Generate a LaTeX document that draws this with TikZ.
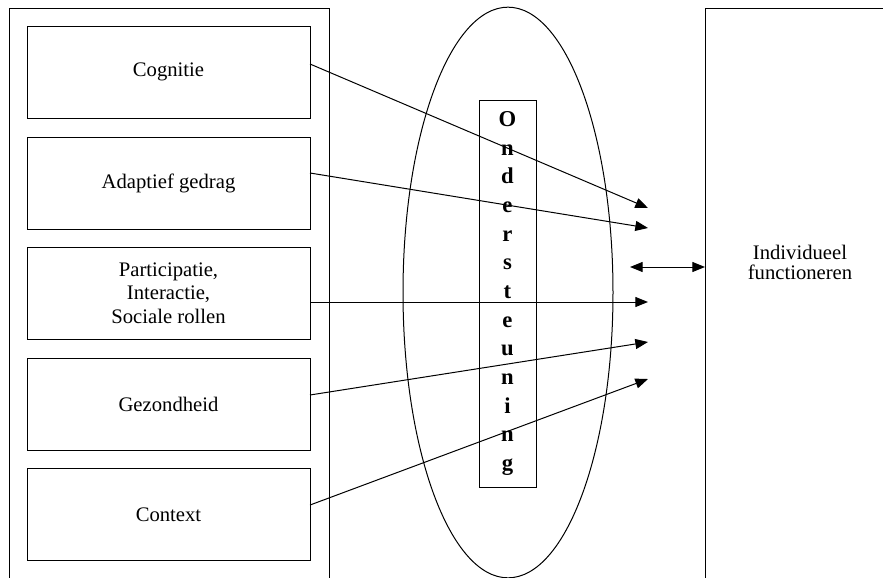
\documentclass[tikz,border=0pt]{standalone}
\usepackage{fontspec}
\setmainfont{Liberation Serif}
\usetikzlibrary{arrows.meta,shapes.geometric}
\newcommand{\txtfont}{\fontsize{15.5}{16.5}\selectfont}
\begin{document}
\begin{tikzpicture}[x=0.75pt,y=-0.75pt, line width=0.75pt,
  box/.style={draw, minimum width=212.25pt, minimum height=69pt, inner sep=0pt, outer sep=0pt, align=center, font=\txtfont},
  frame/.style={draw, inner sep=0pt, outer sep=0pt, anchor=north west},
  arr/.style={-{Triangle[length=9.5pt,width=7.5pt]}},
  dbl/.style={{Triangle[length=9.5pt,width=7.5pt]}-{Triangle[length=9.5pt,width=7.5pt]}}
]
\useasboundingbox (0,0) rectangle (883,578);
\clip (0,0) rectangle (883,578);
% outer frames
\node[frame, minimum width=240pt, minimum height=450pt] (lb) at (9,8) {};
\node[frame, minimum width=150pt, minimum height=450pt] (rb) at (705,8) {};
% ellipse
\node[draw, ellipse, minimum width=157.5pt, minimum height=428pt, inner sep=0pt, outer sep=0pt] (ell) at (508,292.5) {};
% inner boxes
\node[box] (c1) at (168.5,72) {Cognitie};
\node[box] (c2) at (168.5,183) {Adaptief gedrag};
\node[box] (c3) at (168.5,293) {Participatie,\\[1pt]Interactie,\\[1pt]Sociale rollen};
\node[box] (c4) at (168.5,404) {Gezondheid};
\node[box] (c5) at (168.5,514.5) {Context};
% vertical box
\node[draw, minimum width=42.75pt, minimum height=290.25pt, inner sep=0pt, outer sep=0pt, align=center,
      font=\fontsize{17}{21.5}\selectfont\bfseries] (ond) at (507.5,293.5)
  {O\\n\\d\\e\\r\\s\\t\\e\\u\\n\\i\\n\\g};
% right text
\node[align=center, font=\fontsize{15.5}{15}\selectfont] (ind) at (800,262) {Individueel\\functioneren};
% arrow tips
\coordinate (t1) at (648,208);
\coordinate (t2) at (648,228);
\coordinate (t3) at (648,302);
\coordinate (t4) at (648,342);
\coordinate (t5) at (648,379);
\coordinate (d) at (630,267);
\draw[arr] ([yshift=6pt]c1.east) -- (t1);
\draw[arr] ([yshift=7.5pt]c2.east) -- (t2);
\draw[arr] ([yshift=-6.75pt]c3.east) -- (t3);
\draw[arr] ([yshift=6.75pt]c4.east) -- (t4);
\draw[arr] ([yshift=7.1pt]c5.east) -- (t5);
\draw[dbl] (d) -- (d -| rb.west);
\end{tikzpicture}
\end{document}
